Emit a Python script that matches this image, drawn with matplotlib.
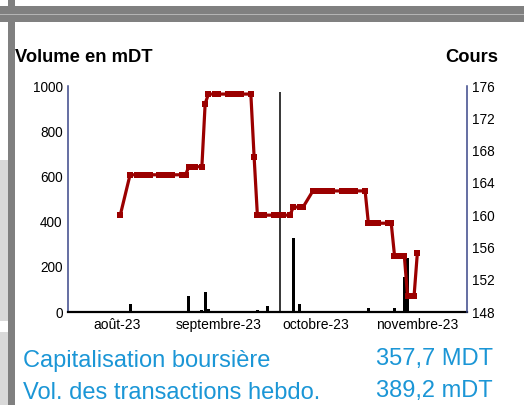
import matplotlib
matplotlib.use("Agg")
import matplotlib.pyplot as plt
from matplotlib.patches import Rectangle
import pandas as pd

plt.rcParams['font.family'] = ['Liberation Sans', 'DejaVu Sans']

# ---------------- data ----------------
price_dates = [
    "2023-08-02", "2023-08-05", "2023-08-07", "2023-08-08", "2023-08-09", "2023-08-10",
    "2023-08-11", "2023-08-14", "2023-08-15", "2023-08-16", "2023-08-17", "2023-08-18",
    "2023-08-21", "2023-08-22", "2023-08-23", "2023-08-24", "2023-08-25", "2023-08-27",
    "2023-08-28", "2023-08-29", "2023-08-31", "2023-09-01", "2023-09-04", "2023-09-05",
    "2023-09-06", "2023-09-07", "2023-09-08", "2023-09-11", "2023-09-12", "2023-09-13",
    "2023-09-14", "2023-09-15", "2023-09-18", "2023-09-19", "2023-09-20", "2023-09-21",
    "2023-09-23", "2023-09-24", "2023-09-26", "2023-09-27", "2023-09-30", "2023-10-02",
    "2023-10-03", "2023-10-04", "2023-10-05", "2023-10-06", "2023-10-09", "2023-10-10",
    "2023-10-11", "2023-10-12", "2023-10-13", "2023-10-16", "2023-10-17", "2023-10-18",
    "2023-10-19", "2023-10-20", "2023-10-23", "2023-10-24", "2023-10-25", "2023-10-26",
    "2023-10-28", "2023-10-29", "2023-10-31", "2023-11-01",
]
price_values = [
    160.0, 165.0, 165.0, 165.0, 165.0, 165.0,
    165.0, 165.0, 165.0, 165.0, 165.0, 165.0,
    165.0, 165.0, 166.0, 166.0, 166.0, 166.0,
    173.8, 175.0, 175.0, 175.0, 175.0, 175.0,
    175.0, 175.0, 175.0, 175.0, 167.2, 160.0,
    160.0, 160.0, 160.0, 160.0, 160.0, 160.0,
    160.0, 161.0, 161.0, 161.0, 163.0, 163.0,
    163.0, 163.0, 163.0, 163.0, 163.0, 163.0,
    163.0, 163.0, 163.0, 163.0, 159.0, 159.0,
    159.0, 159.0, 159.0, 159.0, 155.0, 155.0,
    155.0, 150.0, 150.0, 155.3,
]

volume_dates = [
    "2023-08-05", "2023-08-23", "2023-08-27", "2023-08-28", "2023-08-29",
    "2023-09-13", "2023-09-16", "2023-09-24", "2023-09-26",
    "2023-10-17", "2023-10-25", "2023-10-28", "2023-10-29",
]
volume_values = [35, 70, 8, 88, 15, 7, 26, 327, 35, 18, 18, 157, 239]

event_date = "2023-09-20"
event_volume = 975

month_ticks = ["2023-08-01", "2023-09-01", "2023-10-01", "2023-11-01"]
month_labels = ["août-23", "septembre-23", "octobre-23", "novembre-23"]
x_range = ["2023-07-17 02:00", "2023-11-16 05:00"]

volume_ticks = [0, 200, 400, 600, 800, 1000]
price_ticks = [148, 152, 156, 160, 164, 168, 172, 176]

title_left = "Volume en mDT"
title_right = "Cours"
info_labels = ["Capitalisation boursière", "Vol. des transactions hebdo."]
info_values = ["357,7 MDT", "389,2 mDT"]

# ---------------- figure ----------------
W, H = 524, 405
fig = plt.figure(figsize=(W / 100, H / 100), dpi=100)
fig.patch.set_facecolor("white")


def px(x, y):
    return x / W, 1 - y / H


def frame_rect(x0, y0, x1, y1, color):
    fig.patches.append(Rectangle((x0 / W, 1 - y1 / H), (x1 - x0) / W, (y1 - y0) / H,
                                 transform=fig.transFigure, facecolor=color,
                                 edgecolor="none", zorder=0))


frame_rect(0, 160, 7.5, 320.5, "#d9d9d9")
frame_rect(0, 332, 7.5, 405, "#d9d9d9")
frame_rect(7.5, 0, 15, 405, "#808080")
frame_rect(0, 6, 524, 22, "#808080")
frame_rect(0, 13.5, 524, 15, "#b4b4b4")

ax_left, ax_right, ax_top, ax_bottom = 68.3, 467, 86, 312
ax = fig.add_axes([ax_left / W, 1 - ax_bottom / H, (ax_right - ax_left) / W,
                   (ax_bottom - ax_top) / H])
ax.set_facecolor("none")

vd = pd.to_datetime(volume_dates)
ax.bar(vd, volume_values, width=0.9, color="black", zorder=2)
ax.vlines(pd.to_datetime([event_date]), 0, [event_volume], color="black",
          linewidth=1.1, zorder=2)

ax.set_ylim(volume_ticks[0], volume_ticks[-1])
ax.set_yticks(volume_ticks)
ax.set_xlim(pd.to_datetime(x_range[0]), pd.to_datetime(x_range[1]))
ax.set_xticks(pd.to_datetime(month_ticks))
ax.set_xticklabels(month_labels)
ax.tick_params(axis="x", length=0, pad=4.5, labelsize=10, colors="black")
ax.tick_params(axis="y", length=0, pad=4, labelsize=9.8, colors="black")

for s in ["top", "right"]:
    ax.spines[s].set_visible(False)
ax.spines["left"].set_color("#3a4789")
ax.spines["left"].set_linewidth(1.1)
ax.spines["bottom"].set_color("black")
ax.spines["bottom"].set_linewidth(1.6)
ax.spines["bottom"].set_zorder(5)

ax2 = ax.twinx()
ax2.plot(pd.to_datetime(price_dates), price_values, color="#9b0000", linewidth=2.3,
         marker="s", markersize=4.0, markeredgewidth=0, solid_joinstyle="miter", zorder=3)
ax2.set_ylim(price_ticks[0], price_ticks[-1])
ax2.set_yticks(price_ticks)
ax2.tick_params(axis="y", length=0, pad=3.5, labelsize=9.8, colors="black")
for s in ["top", "left", "bottom"]:
    ax2.spines[s].set_visible(False)
ax2.spines["right"].set_color("#3a4789")
ax2.spines["right"].set_linewidth(1.1)
ax2.set_xlim(pd.to_datetime(x_range[0]), pd.to_datetime(x_range[1]))

fig.text(*px(15, 61.5), title_left, fontsize=13.2, fontweight="bold", ha="left",
         va="baseline", color="black")
fig.text(*px(498.5, 61.5), title_right, fontsize=13.2, fontweight="bold", ha="right",
         va="baseline", color="black")

blue = "#1b96d6"
fig.text(*px(23, 366.5), info_labels[0], fontsize=17, ha="left", va="baseline", color=blue)
fig.text(*px(23, 399), info_labels[1], fontsize=17, ha="left", va="baseline", color=blue)
fig.text(*px(493, 365), info_values[0], fontsize=17, ha="right", va="baseline", color=blue)
fig.text(*px(493, 397), info_values[1], fontsize=17, ha="right", va="baseline", color=blue)

fig.savefig("out.png", dpi=100)
